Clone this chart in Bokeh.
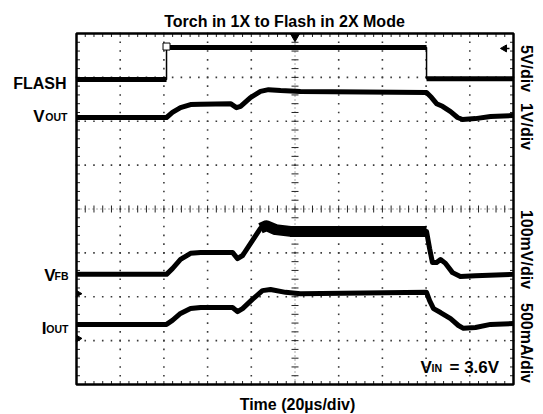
import numpy as np
from bokeh.plotting import figure
from bokeh.models import Range1d, Label
from bokeh.embed import file_html
from bokeh.resources import INLINE

# ---- data: time in µs (20 µs/div, 10 div), levels in screen divisions (8 div) ----
flash_t = [0, 41.2, 41.2, 160.2, 160.2, 200]
flash_v = [6.95, 6.95, 7.68, 7.68, 6.97, 6.97]

vout_t = [0, 41.2, 43.9, 47.6, 52.2, 56.8, 70.5, 73.2, 75.1, 79.6, 84.2, 87.9, 93.4,
          102.5, 160.2, 162.5, 164.8, 167.5, 171.2, 174.4, 176.7, 182.6, 189.5, 200]
vout_v = [6.085, 6.085, 6.20, 6.31, 6.38, 6.39, 6.40, 6.31, 6.34, 6.54, 6.68, 6.72, 6.70,
          6.68, 6.655, 6.54, 6.40, 6.34, 6.22, 6.085, 6.04, 6.06, 6.11, 6.13]

vfb_t = [0, 41.2, 43.9, 47.6, 52.2, 56.8, 71.4, 73.7, 76.0, 80.5, 84.2, 87.0, 91.1,
         97.9, 160.2, 161.6, 162.9, 164.8, 166.6, 168.9, 172.1, 175.7, 182.6, 200]
vfb_v = [2.51, 2.51, 2.64, 2.85, 2.99, 3.01, 3.01, 2.87, 2.94, 3.28, 3.56, 3.62, 3.53,
         3.49, 3.49, 3.10, 2.78, 2.78, 2.85, 2.76, 2.55, 2.46, 2.48, 2.51]

iout_t = [0, 41.2, 43.9, 47.6, 52.2, 56.8, 71.4, 73.7, 76.0, 80.5, 85.1, 88.8, 95.7,
          102.5, 160.2, 161.6, 163.4, 166.6, 171.2, 174.8, 177.1, 182.6, 189.5, 200]
iout_v = [1.37, 1.37, 1.46, 1.62, 1.73, 1.755, 1.755, 1.66, 1.73, 1.94, 2.14, 2.165, 2.10,
          2.07, 2.10, 1.91, 1.73, 1.64, 1.50, 1.345, 1.28, 1.30, 1.37, 1.39]

trig_t = 100.0             # trigger position (centre of screen)
trig_level = 7.66          # trigger level arrow on right edge
gnd_levels = [2.07, 1.05]  # channel ground markers on left edge

title = "Torch in 1X to Flash in 2X Mode"
scale_labels = ["5V/div", "1V/div", "100mV/div", "500mA/div"]
xlabel = "Time (20µs/div)"

# ---- geometry: whole canvas is the plot frame; scope screen is a sub-area ----
W, H = 543, 414
SL, ST, SR, SB = 76, 33, 513, 384          # scope screen in canvas px
XPP = 200.0 / (SR - SL)
YPP = 8.0 / (SB - ST)

def X(px):
    return (px - SL) * XPP

def Y(py):
    return (SB - py) * YPP

p = figure(width=W, height=H, x_range=Range1d(X(0), X(W)), y_range=Range1d(Y(H), Y(0)),
           output_backend="svg", toolbar_location=None, title=None, min_border=0)
p.axis.visible = False
p.grid.visible = False
p.outline_line_color = None
p.background_fill_color = "white"
p.border_fill_color = "white"

# dotted graticule: dots at minor positions along each major line
major_x = np.arange(20, 200, 20)
major_y = np.arange(1, 8, 1)
minor_x = np.arange(0, 200.01, 4)
minor_y = np.arange(0, 8.001, 0.2)
gx, gy = [], []
for mxv in major_x:
    if mxv == 100:
        continue
    gx += [mxv] * len(minor_y); gy += list(minor_y)
for myv in major_y:
    if myv == 4:
        continue
    gx += list(minor_x); gy += [myv] * len(minor_x)
p.scatter(gx, gy, marker="square", size=1.6, fill_color="#3a3a3a", line_color=None)

# centre cross: finer dots
p.segment([100, 0], [0, 4], [100, 200], [8, 4], line_color="#555555", line_width=1,
          line_dash="1 3")

# minor ticks on frame edges and centre cross
tlx, tly = 3.5 * XPP, 3.5 * YPP
x0s, x1s, y0s, y1s = [], [], [], []
for x in minor_x:
    x0s += [x, x, x]; x1s += [x, x, x]
    y0s += [0, 8, 4 - tly]; y1s += [tly, 8 - tly, 4 + tly]
for y in minor_y:
    y0s += [y, y, y]; y1s += [y, y, y]
    x0s += [0, 200, 100 - tlx]; x1s += [tlx, 200 - tlx, 100 + tlx]
p.segment(x0s, y0s, x1s, y1s, line_color="#222222", line_width=1)

# frame
p.quad(left=[0], right=[200], bottom=[0], top=[8], fill_color=None,
       line_color="black", line_width=2.5)

# traces
TW = 5
p.line(flash_t, flash_v, line_color="black", line_width=1.5)
for a, b in ((0, 2), (2, 4), (4, 6)):
    p.line(flash_t[a:b], flash_v[a:b], line_color="black", line_width=TW)
p.line(vout_t, vout_v, line_color="black", line_width=TW, line_join="round")
p.line(vfb_t, vfb_v, line_color="black", line_width=TW, line_join="round")
p.line(vfb_t[10:15], vfb_v[10:15], line_color="black", line_width=11, line_join="round")
p.line(iout_t, iout_v, line_color="black", line_width=TW, line_join="round")

# markers
p.scatter([trig_t], [8 - 3 * YPP], marker="inverted_triangle", size=9,
          fill_color="black", line_color="black")
p.scatter([flash_t[1]], [flash_v[2] + 1 * YPP], marker="square", size=7,
          fill_color="white", line_color="black", line_width=1)
p.scatter([200 - 9 * XPP], [trig_level], marker="triangle", angle=np.pi / 2, size=7,
          fill_color="black", line_color="black")
p.segment([200 - 9 * XPP], [trig_level], [200 - 4 * XPP], [trig_level],
          line_color="black", line_width=1.5)
p.scatter([2 * XPP] * len(gnd_levels), gnd_levels, marker="triangle", angle=-np.pi / 2,
          size=6, fill_color="black", line_color="black")

FONT = "Liberation Sans"

def lab(x, y, text, size, align="left", angle=0.0, baseline="alphabetic"):
    p.add_layout(Label(x=x, y=y, text=text, text_font=FONT, text_font_style="bold",
                       text_font_size=f"{size}px", text_align=align, angle=angle,
                       text_baseline=baseline, text_color="black"))

lab(X(284), Y(21), title, 16, align="center")
lab(X(66), Y(83), "FLASH", 16, align="right")
lab(X(44), Y(116), "V", 17, align="right")
lab(X(67), Y(116), "OUT", 10.5, align="right")
lab(X(55), Y(275), "V", 17, align="right")
lab(X(68), Y(275), "FB", 10.5, align="right")
lab(X(46), Y(328), "I", 17, align="right")
lab(X(68), Y(328), "OUT", 10.5, align="right")
lab(X(420), Y(367), "V", 17)
lab(X(431), Y(367), "IN", 10.5)
lab(X(449), Y(367), "= 3.6V", 17)
lab(X(297), Y(404), xlabel, 16, align="center")
for txt, cy in zip(scale_labels, [68, 126, 249, 342.5]):
    lab(X(526), Y(cy), txt, 16, align="center", angle=-np.pi / 2)

open("out.html", "w").write(file_html(p, INLINE))
